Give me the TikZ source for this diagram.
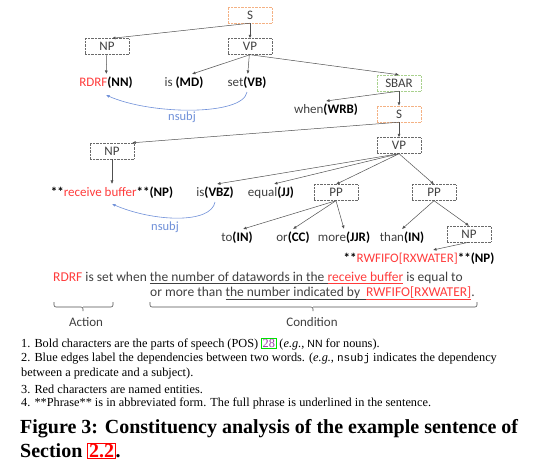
\documentclass[tikz,border=0pt]{standalone}
\usepackage{fontspec}
\setmainfont{Liberation Serif}
\setsansfont{Liberation Sans}
\setmonofont{Liberation Mono}
\newfontfamily\calib{Carlito}
\usetikzlibrary{arrows.meta}

\definecolor{wordgray}{HTML}{404040}
\definecolor{edgegray}{HTML}{505050}
\definecolor{boxgray}{HTML}{6A6A6A}
\definecolor{boxorange}{HTML}{F4B183}
\definecolor{boxgreen}{HTML}{A9D18E}
\definecolor{entred}{HTML}{FF3B3B}
\definecolor{depblue}{HTML}{6E8FD8}
\definecolor{citegreen}{HTML}{00E000}
\definecolor{citepurple}{HTML}{9A3CA8}

\newcommand{\postag}[1]{\textbf{\color{black}(#1)}}
\newcommand{\uln}[1]{{\setbox0\hbox{#1}\dp0=1.2pt\underline{\box0}}}

\tikzset{
  phrase/.style={draw=boxgray, densely dotted, minimum width=44pt, minimum height=16pt, inner sep=0pt, text=wordgray, font=\calib\fontsize{13}{15}\selectfont},
  clause/.style={phrase, draw=boxorange},
  sbarbox/.style={phrase, draw=boxgreen},
  word/.style={inner sep=3pt, text=wordgray, font=\calib\fontsize{13}{15}\selectfont},
  edge/.style={-{Latex[length=3.5pt,width=3pt]}, draw=edgegray, line width=0.5pt},
  dep/.style={-{Latex[length=3.5pt,width=3pt]}, draw=depblue, line width=0.6pt},
  deplabel/.style={inner sep=0pt, text=depblue, font=\calib\fontsize{12.5}{15}\selectfont},
  sent/.style={inner sep=0pt, anchor=west, text=wordgray, font=\calib\fontsize{13.5}{15}\selectfont},
  brk/.style={draw=edgegray, line width=0.6pt, rounded corners=2pt},
  note/.style={inner sep=0pt, anchor=west, font=\fontsize{12.3}{14}\selectfont},
  capt/.style={inner sep=0pt, anchor=west, font=\bfseries\fontsize{20}{22}\selectfont},
}

\begin{document}
\begin{tikzpicture}[x=1pt, y=-1pt]
  \useasboundingbox (0,0) rectangle (540,465);
  % tree of the first clause
  \node[clause] (s1) at (250,15) {S};
  \node[phrase] (np1) at (107,46.5) {NP}; \node[phrase] (vp1) at (250,46.5) {VP};
  \node[word] (rdrf) at (106,83) {\textcolor{entred}{RDRF}\postag{NN}};
  \node[word] (ismd) at (184,83) {is \postag{MD}};
  \node[word] (setvb) at (247,83) {set\postag{VB}};
  \node[sbarbox] (sbar) at (399,83) {SBAR};
  \node[word] (whenwrb) at (326,110) {when\postag{WRB}};
  \node[clause] (s2) at (399,114) {S};
  % tree of the subordinate clause
  \node[phrase] (np2) at (112,151) {NP}; \node[phrase] (vp2) at (399,145.5) {VP};
  \node[word] (recvbuf) at (112,193) {\textbf{\color{black}**}\textcolor{entred}{receive buffer}\textbf{\color{black}**}\postag{NP}};
  \node[word] (isvbz) at (215,193) {is\postag{VBZ}};
  \node[word] (equaljj) at (271,193) {equal\postag{JJ}};
  \node[phrase] (pp1) at (336,192.5) {PP}; \node[phrase] (pp2) at (434,192.5) {PP};
  \node[word] (toin) at (237,238) {to\postag{IN}};
  \node[word] (orcc) at (293,238) {or\postag{CC}};
  \node[word] (morejjr) at (344,238) {more\postag{JJR}};
  \node[word] (thanin) at (402,238) {than\postag{IN}};
  \node[phrase] (np3) at (469,234) {NP};
  \node[word] (rwfifo) at (419,259) {\textbf{\color{black}**}\textcolor{entred}{RWFIFO[RXWATER]}\textbf{\color{black}**}\postag{NP}};

  \draw[edge] (s1.south) -- ([xshift=5pt]np1.north); \draw[edge] (s1) -- (vp1);
  \draw[edge] (np1) -- (rdrf);
  \draw[edge] (vp1.south) -- ([xshift=8pt]ismd.north); \draw[edge] (vp1) -- (setvb); \draw[edge] (vp1.south) -- (sbar.north);
  \draw[edge] (sbar.south) -- (whenwrb.north); \draw[edge] (sbar) -- (s2);
  \draw[edge] (s2.south) -- ([xshift=-2pt]np2.north east); \draw[edge] (s2) -- (vp2);
  \draw[edge] (np2) -- (recvbuf);
  \draw[edge] (vp2.south) -- ([xshift=2pt]isvbz.north); \draw[edge] (vp2.south) -- ([xshift=3pt]equaljj.north);
  \draw[edge] (vp2.south) -- (pp1.north); \draw[edge] (vp2.south) -- (pp2.north);
  \draw[edge] (pp1.south) -- ([xshift=6pt]toin.north); \draw[edge] (pp1.south) -- (orcc.north); \draw[edge] (pp1.south) -- (morejjr.north);
  \draw[edge] (pp2.south) -- (thanin.north); \draw[edge] (pp2.south) -- (np3.north);
  \draw[edge] (np3.south) -- ([xshift=14pt]rwfifo.north);

  % dependencies
  \draw[dep] (setvb.south) .. controls +(-4,24) and +(45,20) .. ([yshift=-3pt]rdrf.south);
  \node[deplabel] (nsubja) at (182,117) {nsubj};
  \draw[dep] (isvbz.south) .. controls +(-4,22) and +(42,18) .. ([yshift=-2pt]recvbuf.south);
  \node[deplabel] (nsubjb) at (165,227) {nsubj};

  % sentence
  \node[sent] (lineone) at (53,278) {\textcolor{entred}{RDRF} is set when \uln{the number of datawords in the }{\color{entred}\uln{receive buffer}} is equal to};
  \node[sent] (linetwo) at (150,293) {or more than \uln{the number indicated by\ \ }{\color{entred}\uln{RWFIFO[RXWATER]}}.};
  \draw[brk] (54,302) |- (83,307) -- (83,311); \draw[brk] (83,307) -| (113,302);
  \draw[brk] (150,302) |- (313,307) -- (313,311); \draw[brk] (313,307) -| (477,302);
  \node[word] (action) at (86,322) {Action}; \node[word] (cond) at (312,322) {Condition};

  % notes and caption
  \setlength{\fboxsep}{0.6pt}\setlength{\fboxrule}{0.8pt}
  \node[note] (noteone) at (21,344) {1. Bold characters are the parts of speech (POS) \fcolorbox{citegreen}{white}{\textcolor{citepurple}{28}} (\emph{e.g.}, {\sffamily\fontsize{10.5}{12}\selectfont NN} for nouns).};
  \node[note] (notetwo) at (21,359) {2. Blue edges label the dependencies between two words. (\emph{e.g.}, {\ttfamily\fontsize{11}{12}\selectfont nsubj} indicates the dependency};
  \node[note] (notetwob) at (21,374) {between a predicate and a subject).};
  \node[note] (notethree) at (21,389) {3. Red characters are named entities.};
  \node[note] (notefour) at (21,403) {4. **Phrase** is in abbreviated form. The full phrase is underlined in the sentence.};
  \node[capt] (capone) at (20,429) {Figure 3: Constituency analysis of the example sentence of};
  \node[capt] (captwo) at (20,451) {Section \setlength{\fboxrule}{1pt}\fcolorbox{red}{white}{\textcolor{red}{2.2}}.};
\end{tikzpicture}
\end{document}
